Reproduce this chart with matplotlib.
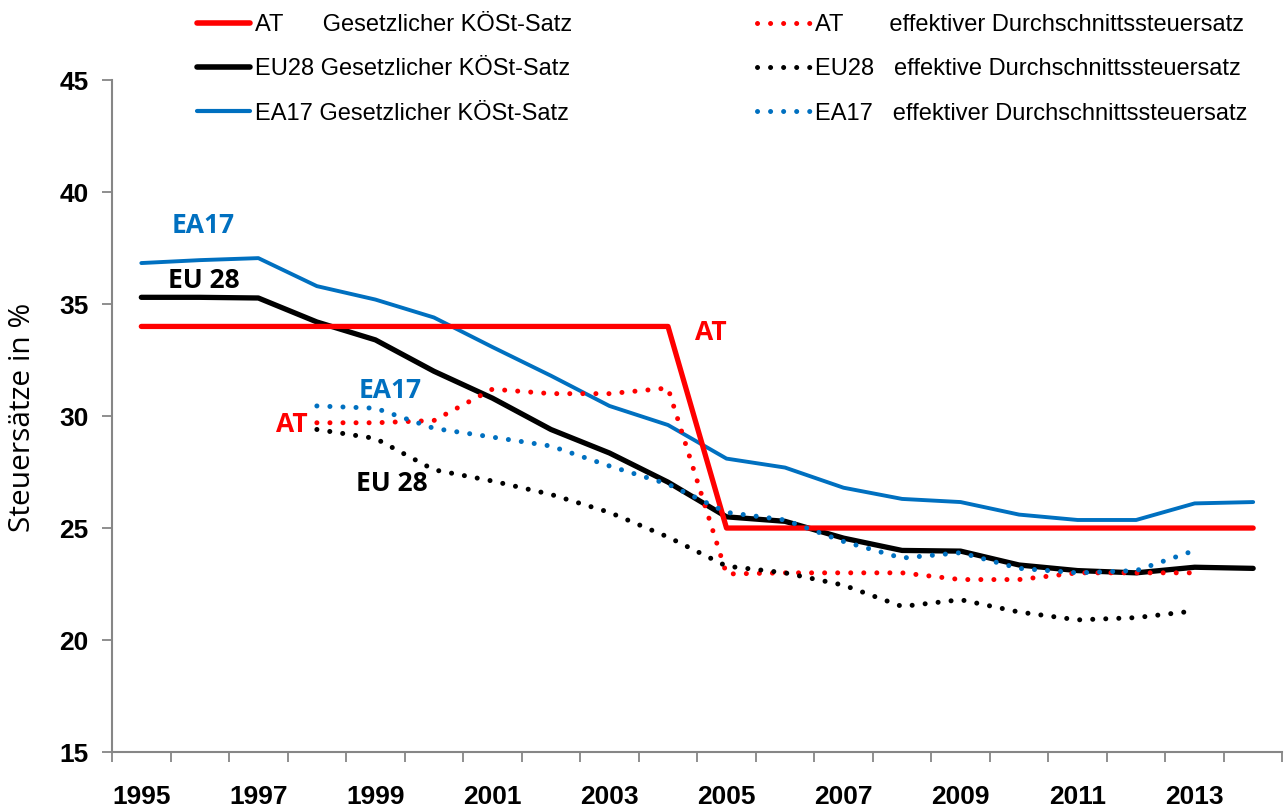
import matplotlib
matplotlib.use('Agg')
import matplotlib.pyplot as plt
from matplotlib import font_manager
from matplotlib.lines import Line2D
import numpy as np

# Data
years = list(range(1995, 2015))
at_stat = [34, 34, 34, 34, 34, 34, 34, 34, 34, 34, 25, 25, 25, 25, 25, 25, 25, 25, 25, 25]
eu_stat = [35.3, 35.3, 35.27, 34.2, 33.4, 32.0, 30.8, 29.4, 28.35, 27.05,
           25.5, 25.3, 24.55, 24.0, 23.97, 23.35, 23.1, 23.0, 23.25, 23.2]
ea_stat = [36.83, 36.96, 37.05, 35.8, 35.2, 34.4, 33.08, 31.8, 30.45, 29.6,
           28.1, 27.7, 26.8, 26.3, 26.16, 25.6, 25.36, 25.36, 26.1, 26.16]
nan = np.nan
at_eff = [nan, nan, nan, 29.7, 29.7, 29.8, 31.2, 31.0, 31.0, 31.25,
          22.95, 23.0, 23.0, 23.0, 22.7, 22.7, 23.0, 23.0, 23.0, nan]
eu_eff = [nan, nan, nan, 29.4, 29.0, 27.6, 27.1, 26.5, 25.7, 24.6,
          23.3, 23.0, 22.45, 21.5, 21.8, 21.25, 20.9, 21.0, 21.3, nan]
ea_eff = [nan, nan, nan, 30.45, 30.35, 29.45, 29.06, 28.66, 27.77, 26.96,
          25.7, 25.36, 24.4, 23.66, 23.9, 23.2, 23.0, 23.1, 24.0, nan]

# annotations: (text, year position, value, colour)
annotations = [
    ('EA17', 1.06, 38.5, '#0070C0'),
    ('EU 28', 1.06, 36.05, 'black'),
    ('AT', 9.73, 33.75, 'red'),
    ('EA17', 4.26, 31.15, '#0070C0'),
    ('AT', 2.57, 29.62, 'red'),
    ('EU 28', 4.28, 27.0, 'black'),
]

installed = {f.name for f in font_manager.fontManager.ttflist}
narrow = 'Liberation Sans Narrow' if 'Liberation Sans Narrow' in installed else 'Liberation Sans'
plt.rcParams['font.family'] = [narrow, 'DejaVu Sans']

RED = '#FF0000'
BLUE = '#0070C0'
GRAY = '#868686'

fig = plt.figure(figsize=(12.85, 8.11), dpi=100)
ax = fig.add_axes([0.0872, 0.0727, 0.9108, 0.8286])

x = np.arange(len(years))
ax.plot(x, eu_stat, color='black', lw=3.8, solid_capstyle='round', zorder=3)
ax.plot(x, ea_stat, color=BLUE, lw=2.8, solid_capstyle='round', zorder=3)
ax.plot(x, at_stat, color=RED, lw=3.8, solid_capstyle='round', zorder=3)

dot = (0, (0.01, 2.6))
ax.plot(x, at_eff, color=RED, lw=3.6, ls=dot, dash_capstyle='round', zorder=4)
ax.plot(x, eu_eff, color='black', lw=3.6, ls=dot, dash_capstyle='round', zorder=4)
ax.plot(x, ea_eff, color=BLUE, lw=3.6, ls=dot, dash_capstyle='round', zorder=5)

for txt, xp, yp, c in annotations:
    ax.text(xp, yp, txt, color=c, fontsize=19, fontweight='bold',
            ha='center', va='center', family=['Open Sans', 'DejaVu Sans'])

ax.set_xlim(-0.5, len(years) - 0.5)
ax.set_ylim(15, 45)
ax.set_yticks(range(15, 46, 5))
ax.set_xticks(x[::2])
ax.set_xticklabels([str(y) for y in years[::2]])
ax.set_xticks(np.arange(-0.5, len(years), 1.0), minor=True)
ax.tick_params(axis='x', which='major', length=0, pad=24, labelsize=19)
ax.tick_params(axis='x', which='minor', length=7, width=1.3, color=GRAY)
ax.tick_params(axis='y', length=7, width=1.3, color=GRAY, labelsize=19, pad=10)
for lab in ax.get_xticklabels() + ax.get_yticklabels():
    lab.set_fontweight('bold')

for s in ['top', 'right']:
    ax.spines[s].set_visible(False)
for s in ['left', 'bottom']:
    ax.spines[s].set_color(GRAY)
    ax.spines[s].set_linewidth(1.5)

ax.set_ylabel('Steuersätze in %', fontsize=21.5, family=['Open Sans', 'DejaVu Sans'])
ax.yaxis.set_label_coords(-0.064, 0.498)

# legends
h_stat = [Line2D([], [], color=RED, lw=4, solid_capstyle='round'),
          Line2D([], [], color='black', lw=4, solid_capstyle='round'),
          Line2D([], [], color=BLUE, lw=3, solid_capstyle='round')]
l_stat = ['AT      Gesetzlicher KÖSt-Satz',
          'EU28 Gesetzlicher KÖSt-Satz',
          'EA17 Gesetzlicher KÖSt-Satz']
h_eff = [Line2D([], [], color=RED, lw=3.6, ls=dot, dash_capstyle='round'),
         Line2D([], [], color='black', lw=3.6, ls=dot, dash_capstyle='round'),
         Line2D([], [], color=BLUE, lw=3.6, ls=dot, dash_capstyle='round')]
l_eff = ['AT       effektiver Durchschnittssteuersatz',
         'EU28   effektive Durchschnittssteuersatz',
         'EA17   effektiver Durchschnittssteuersatz']

leg_kw = dict(loc='upper left', frameon=False, fontsize=17, handlelength=2.25,
              handletextpad=0.2, labelspacing=0.95, borderpad=0, borderaxespad=0)
leg1 = fig.legend(h_stat, l_stat, bbox_to_anchor=(197 / 1285, 0.983), **leg_kw)
leg2 = fig.legend(h_eff, l_eff, bbox_to_anchor=(757 / 1285, 0.983), **leg_kw)

fig.savefig('out.png', dpi=100)
